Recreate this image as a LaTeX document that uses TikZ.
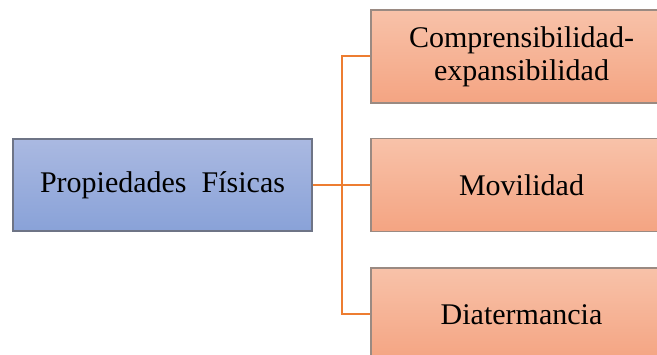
\documentclass[tikz,border=0pt]{standalone}
\usepackage{fontspec}
\setmainfont{Liberation Serif}
\begin{document}
\begin{tikzpicture}[x=1pt,y=1pt,
  bluebox/.style={draw=blueBd, line width=1.3pt, top color=blueTop, bottom color=blueBot, minimum width=299pt, minimum height=92pt, inner sep=0pt, font=\fontsize{30}{33}\selectfont, align=center},
  orangebox/.style={draw=orangeBd, line width=1.3pt, top color=orTop, bottom color=orBot, minimum width=301pt, minimum height=93pt, inner sep=0pt, font=\fontsize{30}{33}\selectfont, align=center},
  conn/.style={draw=connOr, line width=2pt}]
\definecolor{blueTop}{HTML}{AAB9E1}
\definecolor{blueBot}{HTML}{89A2D8}
\definecolor{blueBd}{HTML}{6E7486}
\definecolor{orTop}{HTML}{F8C2A9}
\definecolor{orBot}{HTML}{F4A482}
\definecolor{orangeBd}{HTML}{9A8A82}
\definecolor{connOr}{HTML}{ED7D31}
\useasboundingbox (0,0) rectangle (657,354);
\begin{scope}
\clip (0,0) rectangle (657,354);
\node[bluebox] (L) at (162.5,169) {Propiedades\ \ Físicas};
\node[orangebox] (R1) at (521.5,297.5) {Comprensibilidad-\\expansibilidad};
\node[orangebox] (R2) at (521.5,169) {Movilidad};
\node[orangebox] (R3) at (521.5,39.5) {Diatermancia};
\coordinate (J) at (342,169);
\draw[conn] (L.east) -- (R2.west);
\draw[conn] (R1.west) -| (J) |- (R3.west);
\end{scope}
\end{tikzpicture}
\end{document}
